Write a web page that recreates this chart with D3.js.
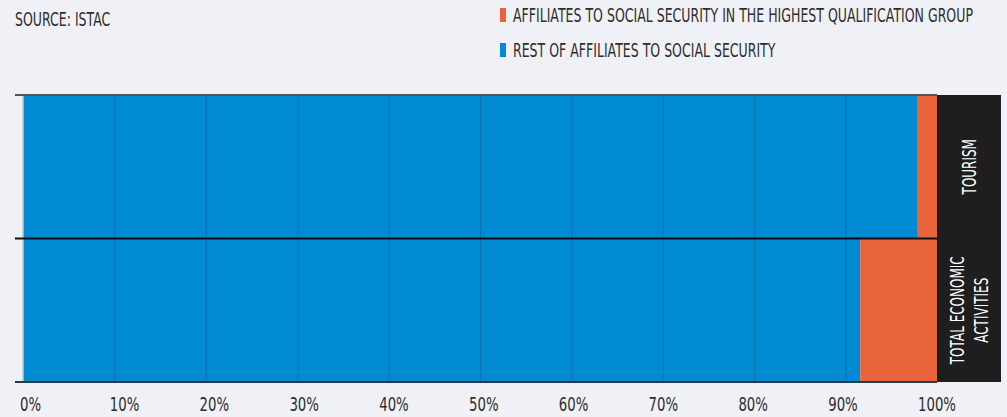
<!DOCTYPE html>
<html>
<head>
<meta charset="utf-8">
<script src="https://cdn.jsdelivr.net/npm/d3@7"></script>
<style>
  html, body { margin: 0; padding: 0; background: #f0f1f6; }
  svg text { font-family: "DejaVu Sans", sans-serif; }
</style>
</head>
<body>
<div id="chart"></div>
<script>
  // chart values
  var categories = ["TOURISM", "TOTAL ECONOMIC ACTIVITIES"];
  var categoryLines = [["TOURISM"], ["TOTAL ECONOMIC", "ACTIVITIES"]];
  var restValues = [97.9, 91.6];
  var highestValues = [2.1, 8.4];
  var tickValues = [0, 10, 20, 30, 40, 50, 60, 70, 80, 90, 100];
  var tickLabels = ["0%", "10%", "20%", "30%", "40%", "50%", "60%", "70%", "80%", "90%", "100%"];
  var seriesNames = ["AFFILIATES TO SOCIAL SECURITY IN THE HIGHEST QUALIFICATION GROUP",
                     "REST OF AFFILIATES TO SOCIAL SECURITY"];
  var seriesColors = ["#e8643b", "#008ad2"];

  var width = 1007, height = 417;
  var margin = {top: 95, right: 70, bottom: 35, left: 23};
  var textColor = "#2e2e2e";

  // no condensed font installed, so squeeze glyphs horizontally
  function squeeze(px, py, f) {
      return "translate(" + px + "," + py + ") scale(" + f + ",1)";
  }

  var svg = d3.select("#chart").append("svg")
      .attr("width", width)
      .attr("height", height);

  svg.append("rect").attr("width", width).attr("height", height).attr("fill", "#f0f1f6");

  var x = d3.scaleLinear().domain([0, 100]).range([margin.left, width - margin.right]);
  var y = d3.scaleBand().domain(categories).range([margin.top, height - margin.bottom]).padding(0);
  // tick labels sit on a slightly narrower run than the grid
  var xLabel = d3.scaleLinear().domain([0, 100]).range([20, 918]);

  var rows = categories.map(function (c, i) {
      return {cat: c, rest: restValues[i], high: highestValues[i], lines: categoryLines[i]};
  });

  // bars
  var g = svg.append("g");
  g.selectAll("rect.rest").data(rows).enter().append("rect")
      .attr("class", "rest")
      .attr("x", x(0))
      .attr("y", function (d) { return y(d.cat); })
      .attr("width", function (d) { return x(d.rest) - x(0); })
      .attr("height", y.bandwidth())
      .attr("fill", seriesColors[1]);
  g.selectAll("rect.high").data(rows).enter().append("rect")
      .attr("class", "high")
      .attr("x", function (d) { return x(d.rest); })
      .attr("y", function (d) { return y(d.cat); })
      .attr("width", function (d) { return x(d.rest + d.high) - x(d.rest); })
      .attr("height", y.bandwidth())
      .attr("fill", seriesColors[0]);

  // vertical grid lines over the bars
  var grid = svg.append("g")
      .attr("transform", "translate(0," + (height - margin.bottom) + ")")
      .call(d3.axisBottom(x)
          .tickValues(tickValues.slice(1, -1))
          .tickSize(-(height - margin.top - margin.bottom))
          .tickFormat(""));
  grid.select(".domain").remove();
  grid.selectAll(".tick line").attr("stroke", "#000").attr("stroke-opacity", 0.18).attr("stroke-width", 1);

  // light line at zero
  svg.append("line")
      .attr("x1", x(0)).attr("x2", x(0))
      .attr("y1", margin.top).attr("y2", height - margin.bottom)
      .attr("stroke", "#c8c9ce").attr("stroke-width", 1.5);

  // label panel on the right
  var panel = svg.append("g");
  panel.append("rect")
      .attr("x", x(100))
      .attr("y", margin.top)
      .attr("width", 64)
      .attr("height", height - margin.top - margin.bottom)
      .attr("fill", "#1e1e1e");

  panel.selectAll("text.cat").data(rows).enter().append("text")
      .attr("class", "cat")
      .attr("transform", function (d) {
          return "translate(" + (x(100) + 32) + "," + (y(d.cat) + y.bandwidth() / 2) + ") rotate(-90) scale(0.6,1)";
      })
      .attr("text-anchor", "middle")
      .attr("fill", "#fff")
      .style("font-size", "20px")
      .each(function (d) {
          var t = d3.select(this);
          var n = d.lines.length;
          d.lines.forEach(function (line, k) {
              t.append("tspan")
                  .attr("x", 0)
                  .attr("y", (k - (n - 1) / 2) * 24 + 7)
                  .text(line);
          });
      });

  // band boundary lines with left ticks
  var bounds = [margin.top, y(categories[1]), height - margin.bottom];
  var boundColors = ["#555", "#111", "#2a3a48"];
  svg.selectAll("line.bound").data(bounds).enter().append("line")
      .attr("class", "bound")
      .attr("x1", 15)
      .attr("x2", x(100))
      .attr("y1", function (d) { return d; })
      .attr("y2", function (d) { return d; })
      .attr("stroke", function (d, i) { return boundColors[i]; })
      .attr("stroke-width", 2);

  // x tick labels
  svg.selectAll("text.tick").data(tickValues).enter().append("text")
      .attr("class", "tick")
      .attr("transform", function (d) { return squeeze(xLabel(d), 411, 0.7); })
      .attr("fill", textColor)
      .style("font-size", "19px")
      .text(function (d, i) { return tickLabels[i]; });

  // source
  svg.append("text")
      .attr("transform", squeeze(15, 26, 0.66))
      .attr("fill", textColor)
      .style("font-size", "19px")
      .text("SOURCE: ISTAC");

  // legend
  var legend = svg.append("g");
  seriesNames.forEach(function (name, i) {
      var ly = 22 + i * 35;
      legend.append("rect")
          .attr("x", 500).attr("y", ly - 14)
          .attr("width", 6).attr("height", 14)
          .attr("fill", seriesColors[i]);
      legend.append("text")
          .attr("transform", squeeze(513, ly, 0.66))
          .attr("fill", textColor)
          .style("font-size", "19px")
          .text(name);
  });
</script>
</body>
</html>
